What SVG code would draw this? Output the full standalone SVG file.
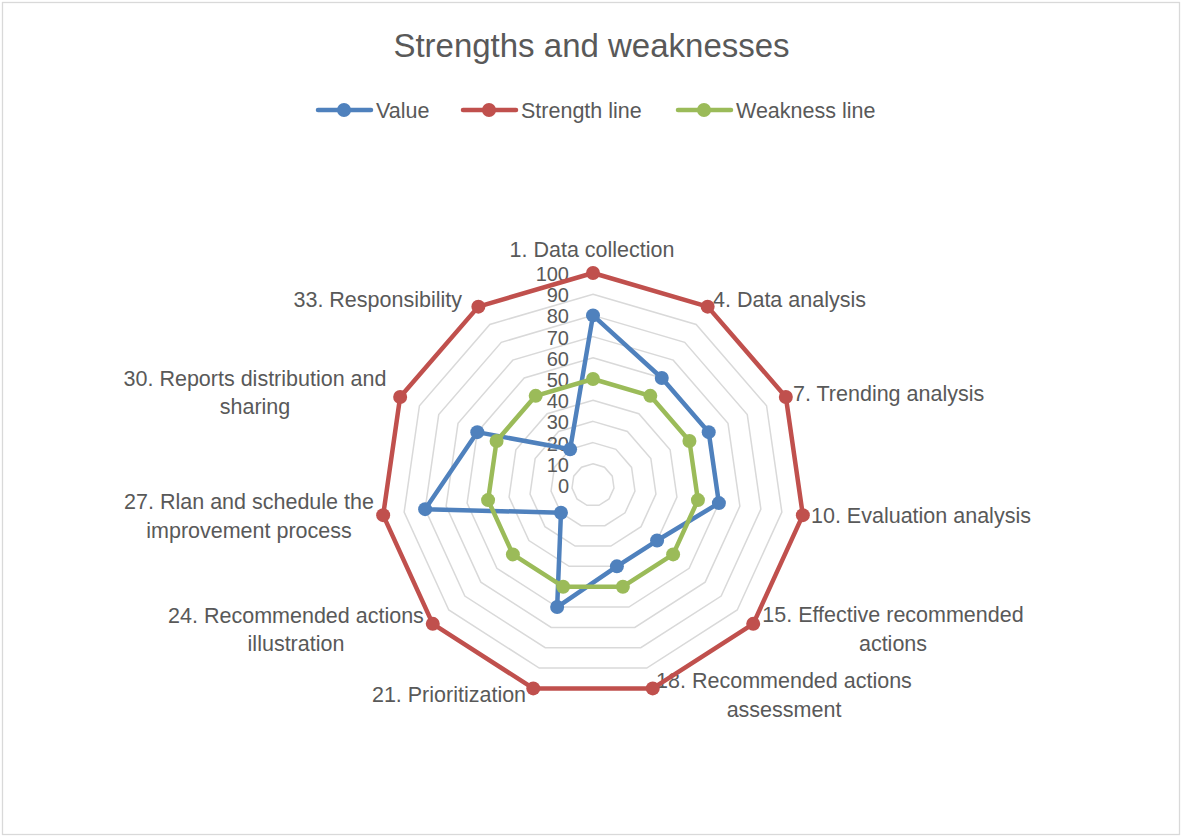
<svg xmlns="http://www.w3.org/2000/svg" xmlns:xlink="http://www.w3.org/1999/xlink" width="1181" height="836" viewBox="0 0 1181 836">
  <style>
    text { font-family: "Liberation Sans", Arial, sans-serif; fill: #595959; }
    .title { font-size: 33px; text-anchor: middle; }
    .leg { font-size: 21.5px; }
    .cat { font-size: 21.5px; }
    .mid { text-anchor: middle; }
    .end { text-anchor: end; }
    .num { font-size: 20px; text-anchor: end; }
    .grid { fill: none; stroke: #d9d9d9; stroke-width: 1.5; vector-effect: non-scaling-stroke; }
    .ser { fill: none; stroke-width: 4.5; stroke-linejoin: round; stroke-linecap: round; }
    .blue { stroke: #4f81bd; }
    .red { stroke: #c0504d; }
    .green { stroke: #9bbb59; }
    .mb { fill: #4f81bd; }
    .mr { fill: #c0504d; }
    .mg { fill: #9bbb59; }
  </style>
  <defs>
    <polygon id="ring" class="grid" points="0,-212 114.62,-178.35 192.84,-88.07 209.84,30.17 160.22,138.83 59.73,203.41 -59.73,203.41 -160.22,138.83 -209.84,30.17 -192.84,-88.07 -114.62,-178.35"/>
  </defs>

  <rect x="2.5" y="2.5" width="1177" height="832" fill="#ffffff" stroke="#d9d9d9" stroke-width="1.3"/>

  <g id="title">
    <text class="title" x="591.5" y="57">Strengths and weaknesses</text>
  </g>

  <g id="legend">
    <g id="legend-value">
      <line class="ser blue" x1="318" y1="110" x2="371" y2="110"/>
      <circle class="mb" cx="344" cy="110" r="7"/>
      <text class="leg" x="376" y="117.5">Value</text>
    </g>
    <g id="legend-strength">
      <line class="ser red" x1="463" y1="110" x2="516" y2="110"/>
      <circle class="mr" cx="489" cy="110" r="7"/>
      <text class="leg" x="521" y="117.5">Strength line</text>
    </g>
    <g id="legend-weakness">
      <line class="ser green" x1="678" y1="110" x2="731" y2="110"/>
      <circle class="mg" cx="704" cy="110" r="7"/>
      <text class="leg" x="736" y="117.5">Weakness line</text>
    </g>
  </g>

  <g id="grid">
    <use xlink:href="#ring" transform="translate(593 485) scale(0.1)"/>
    <use xlink:href="#ring" transform="translate(593 485) scale(0.2)"/>
    <use xlink:href="#ring" transform="translate(593 485) scale(0.3)"/>
    <use xlink:href="#ring" transform="translate(593 485) scale(0.4)"/>
    <use xlink:href="#ring" transform="translate(593 485) scale(0.5)"/>
    <use xlink:href="#ring" transform="translate(593 485) scale(0.6)"/>
    <use xlink:href="#ring" transform="translate(593 485) scale(0.7)"/>
    <use xlink:href="#ring" transform="translate(593 485) scale(0.8)"/>
    <use xlink:href="#ring" transform="translate(593 485) scale(0.9)"/>
    <use xlink:href="#ring" transform="translate(593 485) scale(1)"/>
  </g>

  <g id="axis-values">
    <text class="num" x="569" y="493">0</text>
    <text class="num" x="569" y="471.8">10</text>
    <text class="num" x="569" y="450.6">20</text>
    <text class="num" x="569" y="429.4">30</text>
    <text class="num" x="569" y="408.2">40</text>
    <text class="num" x="569" y="387">50</text>
    <text class="num" x="569" y="365.8">60</text>
    <text class="num" x="569" y="344.6">70</text>
    <text class="num" x="569" y="323.4">80</text>
    <text class="num" x="569" y="302.2">90</text>
    <text class="num" x="569" y="281">100</text>
  </g>

  <g id="categories">
    <g id="cat-1"><text class="cat mid" x="592" y="257">1. Data collection</text></g>
    <g id="cat-4"><text class="cat" x="713" y="307">4. Data analysis</text></g>
    <g id="cat-7"><text class="cat" x="793" y="401">7. Trending analysis</text></g>
    <g id="cat-10"><text class="cat" x="811" y="523">10. Evaluation analysis</text></g>
    <g id="cat-15"><text class="cat mid" x="893" y="622">15. Effective recommended</text><text class="cat mid" x="893" y="651">actions</text></g>
    <g id="cat-18"><text class="cat mid" x="784" y="688">18. Recommended actions</text><text class="cat mid" x="784" y="717">assessment</text></g>
    <g id="cat-21"><text class="cat mid" x="449" y="702">21. Prioritization</text></g>
    <g id="cat-24"><text class="cat mid" x="296" y="623">24. Recommended actions</text><text class="cat mid" x="296" y="651">illustration</text></g>
    <g id="cat-27"><text class="cat mid" x="249" y="509">27. Rlan and schedule the</text><text class="cat mid" x="249" y="538">improvement process</text></g>
    <g id="cat-30"><text class="cat mid" x="255" y="386">30. Reports distribution and</text><text class="cat mid" x="255" y="414">sharing</text></g>
    <g id="cat-33"><text class="cat end" x="462" y="307">33. Responsibility</text></g>
  </g>

  <g id="connectors">
    <g id="series-value">
      <polygon class="ser blue" points="593,315.4 661.77,377.99 708.71,432.16 718.91,503.10 657.09,540.53 616.89,566.36 557.16,607.05 560.96,512.77 425.13,509.14 477.29,432.16 570.08,449.33"/>
      <circle class="mb" cx="593" cy="315.4" r="7"/>
      <circle class="mb" cx="661.77" cy="377.99" r="7"/>
      <circle class="mb" cx="708.71" cy="432.16" r="7"/>
      <circle class="mb" cx="718.91" cy="503.10" r="7"/>
      <circle class="mb" cx="657.09" cy="540.53" r="7"/>
      <circle class="mb" cx="616.89" cy="566.36" r="7"/>
      <circle class="mb" cx="557.16" cy="607.05" r="7"/>
      <circle class="mb" cx="560.96" cy="512.77" r="7"/>
      <circle class="mb" cx="425.13" cy="509.14" r="7"/>
      <circle class="mb" cx="477.29" cy="432.16" r="7"/>
      <circle class="mb" cx="570.08" cy="449.33" r="7"/>
    </g>
    <g id="series-strength">
      <polygon class="ser red" points="593,273 707.62,306.65 785.84,396.93 802.84,515.17 753.22,623.83 652.73,688.41 533.27,688.41 432.78,623.83 383.16,515.17 400.16,396.93 478.38,306.65"/>
      <circle class="mr" cx="593" cy="273" r="7"/>
      <circle class="mr" cx="707.62" cy="306.65" r="7"/>
      <circle class="mr" cx="785.84" cy="396.93" r="7"/>
      <circle class="mr" cx="802.84" cy="515.17" r="7"/>
      <circle class="mr" cx="753.22" cy="623.83" r="7"/>
      <circle class="mr" cx="652.73" cy="688.41" r="7"/>
      <circle class="mr" cx="533.27" cy="688.41" r="7"/>
      <circle class="mr" cx="432.78" cy="623.83" r="7"/>
      <circle class="mr" cx="383.16" cy="515.17" r="7"/>
      <circle class="mr" cx="400.16" cy="396.93" r="7"/>
      <circle class="mr" cx="478.38" cy="306.65" r="7"/>
    </g>
    <g id="series-weakness">
      <polygon class="ser green" points="593,379 650.31,395.83 689.42,440.97 697.92,500.08 673.11,554.42 622.86,586.71 563.14,586.71 512.89,554.42 488.08,500.08 496.58,440.97 535.69,395.83"/>
      <circle class="mg" cx="593" cy="379" r="7"/>
      <circle class="mg" cx="650.31" cy="395.83" r="7"/>
      <circle class="mg" cx="689.42" cy="440.97" r="7"/>
      <circle class="mg" cx="697.92" cy="500.08" r="7"/>
      <circle class="mg" cx="673.11" cy="554.42" r="7"/>
      <circle class="mg" cx="622.86" cy="586.71" r="7"/>
      <circle class="mg" cx="563.14" cy="586.71" r="7"/>
      <circle class="mg" cx="512.89" cy="554.42" r="7"/>
      <circle class="mg" cx="488.08" cy="500.08" r="7"/>
      <circle class="mg" cx="496.58" cy="440.97" r="7"/>
      <circle class="mg" cx="535.69" cy="395.83" r="7"/>
    </g>
  </g>
</svg>
